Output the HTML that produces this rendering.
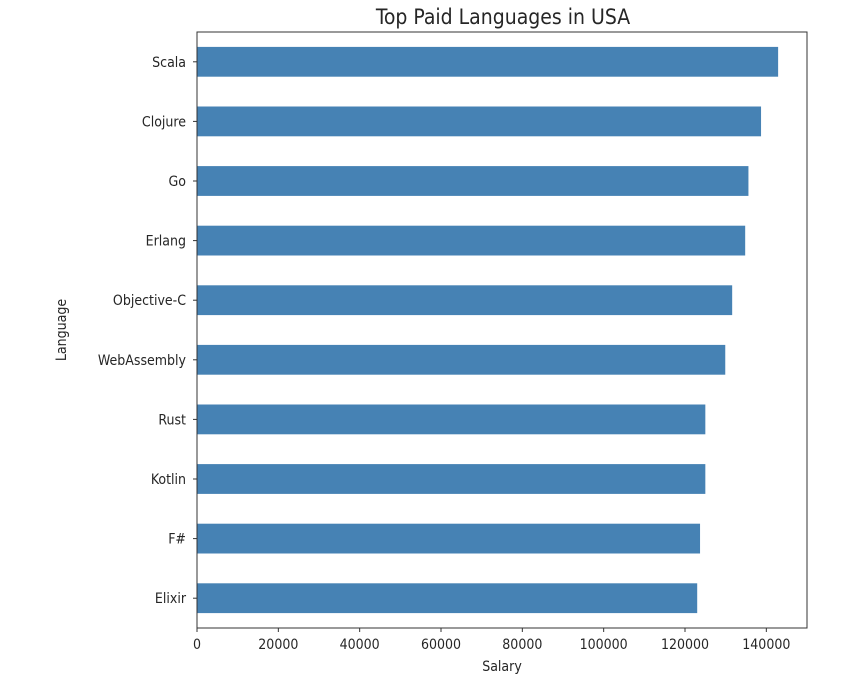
<!DOCTYPE html>
<html><head><meta charset="utf-8"><style>
body{margin:0;background:#fff;font-family:"DejaVu Sans Condensed","DejaVu Sans","Liberation Sans",sans-serif}
svg text{fill:#262626;font-family:"DejaVu Sans Condensed","DejaVu Sans",sans-serif;font-stretch:condensed}
</style></head><body>
<svg width="864" height="690" id="c">
<text x="503" y="24" text-anchor="middle" font-size="21">Top Paid Languages in USA</text>
<text x="502" y="671" text-anchor="middle" font-size="14">Salary</text>
<text x="66" y="330" text-anchor="middle" font-size="14" transform="rotate(-90 66 330)">Language</text>
<g id="bars"></g>
<g id="ticks"></g>
<rect x="197" y="32" width="610" height="596" fill="none" stroke="#333" stroke-width="1"/>
</svg>
<script>
const categories=["Scala","Clojure","Go","Erlang","Objective-C","WebAssembly","Rust","Kotlin","F#","Elixir"];
const salaries=[142900,138700,135600,134800,131600,129900,125000,125000,123700,123000];
const xTicks=[0,20000,40000,60000,80000,100000,120000,140000];
const L=197,R=807,T=32,B=628,XMAX=150000;
const x=v=>L+(v/XMAX)*(R-L);
const step=(B-T)/categories.length;
const y=i=>T+step*(i+0.5);
const ns="http://www.w3.org/2000/svg";
const bars=document.getElementById('bars'),ticks=document.getElementById('ticks');
function mk(t,a){const e=document.createElementNS(ns,t);for(const k in a)e.setAttribute(k,a[k]);return e;}
categories.forEach((c,i)=>{
 const r=mk('rect',{x:L,y:y(i)-step*0.25,width:x(salaries[i])-L,height:step*0.5,fill:'#4682b4'});
 
 
 bars.appendChild(r);
 const tk=mk('line',{x1:L-4,x2:L,y1:y(i),y2:y(i),stroke:'#333'});
 
 
 ticks.appendChild(tk);
 const t=mk('text',{x:L-11,y:y(i)+5,'text-anchor':'end','font-size':'14'});
 t.textContent=c;
 
 
 ticks.appendChild(t);
});
xTicks.forEach(v=>{
 const tk=mk('line',{x1:x(v),x2:x(v),y1:B,y2:B+4,stroke:'#333'});
 
 
 ticks.appendChild(tk);
 const t=mk('text',{x:x(v),y:B+21,'text-anchor':'middle','font-size':'14'});
 t.textContent=v;
 
 
 ticks.appendChild(t);
});
</script>
</body></html>
